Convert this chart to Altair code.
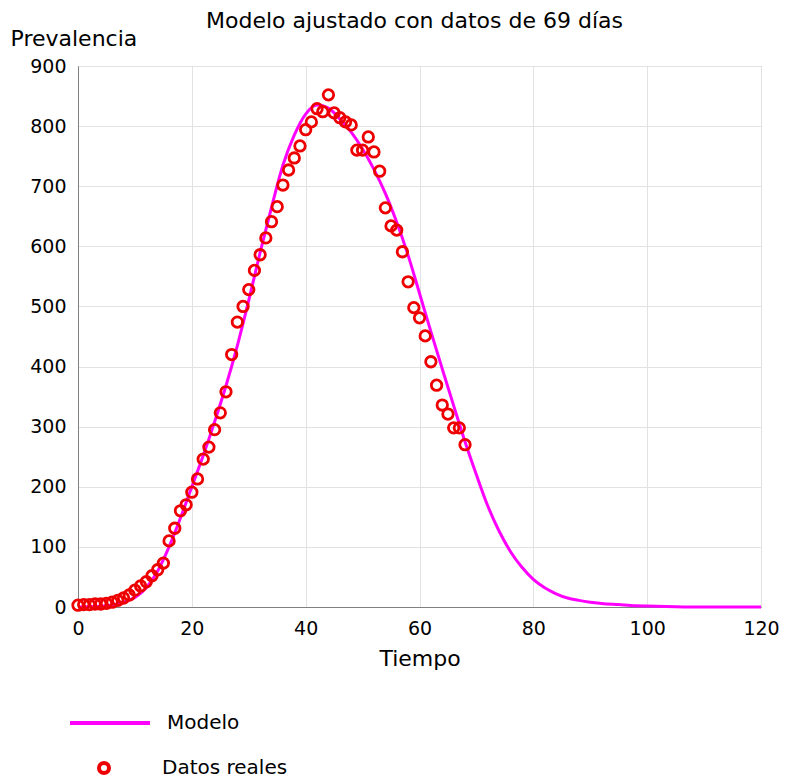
import altair as alt
import pandas as pd

# Observed data (days 0..68)
dias = list(range(69))
datos = [3, 4, 4, 5, 5, 6, 8, 11, 15, 20, 28, 35, 42, 52, 62, 73,
         110, 131, 160, 170, 191, 213, 246, 266, 295, 323,
         358, 420, 474, 500, 528, 560, 586, 614, 641, 666,
         702, 727, 747, 767, 794, 807, 829, 824, 852, 822,
         814, 807, 802, 760, 760, 782, 757, 725, 664, 634,
         627, 591, 541, 498, 481, 451, 408, 369, 336, 321,
         298, 298, 270]

# Fitted model curve
t_modelo = [0, 5, 8, 10, 12, 14, 16, 18, 20, 22, 24, 26, 28, 30, 32, 34, 36, 38, 40,
            42, 44, 46, 48, 50, 52, 54, 56, 58, 60, 62, 64, 66, 68, 70, 72, 74,
            76, 78, 80, 82, 84, 86, 88, 90, 92, 95, 98, 100, 105, 110, 120]
modelo = [0, 2, 8, 16, 32, 60, 100, 148, 200, 252, 308, 368, 435, 510, 590, 665, 735,
          785, 820, 835, 830, 812, 790, 762, 728, 688, 640, 585, 522, 458, 396,
          335, 275, 220, 168, 126, 92, 66, 46, 32, 22, 15, 11, 8, 6, 4, 2, 1.5,
          0.5, 0, 0]

x_ticks = [0, 20, 40, 60, 80, 100, 120]
y_ticks = [0, 100, 200, 300, 400, 500, 600, 700, 800, 900]

df_datos = pd.DataFrame({"t": dias, "v": datos, "serie": "Datos reales"})
df_modelo = pd.DataFrame({"t": t_modelo, "v": modelo, "serie": "Modelo"})

FONT = "DejaVu Sans"

x_enc = alt.X("t:Q", scale=alt.Scale(domain=[0, 120], nice=False),
              axis=alt.Axis(values=x_ticks, title="Tiempo", labelPadding=12,
                            titlePadding=10, labelFlush=False))
y_enc = alt.Y("v:Q", scale=alt.Scale(domain=[0, 900], nice=False),
              axis=alt.Axis(values=y_ticks, title="Prevalencia", titleAngle=0,
                            titleX=-68, titleY=-28, titleAlign="left",
                            titleBaseline="middle", labelPadding=12, labelFlush=False))

linea = alt.Chart(df_modelo).mark_line(strokeWidth=3, interpolate="monotone").encode(
    x=x_enc, y=y_enc,
    color=alt.Color("serie:N", scale=alt.Scale(domain=["Modelo"], range=["#ff00ff"]),
                    legend=alt.Legend(title=None, orient="none", legendX=-10, legendY=615,
                                      symbolType="stroke", symbolSize=6400,
                                      symbolStrokeWidth=4, labelFontSize=20,
                                      labelFont=FONT, labelOffset=15, padding=0))
)

puntos = alt.Chart(df_datos).mark_point(filled=False, size=110, strokeWidth=2.8,
                                        opacity=1).encode(
    x=x_enc, y=y_enc,
    stroke=alt.Stroke("serie:N", scale=alt.Scale(domain=["Datos reales"], range=["#ee0000"]),
                      legend=alt.Legend(title=None, orient="none", legendX=16, legendY=692,
                                        symbolType="circle", symbolSize=100,
                                        symbolStrokeWidth=4, symbolOpacity=1,
                                        labelFontSize=20,
                                        labelFont=FONT, labelOffset=48, padding=0))
)

chart = alt.layer(linea, puntos).properties(
    width=683, height=541,
    autosize=alt.AutoSizeParams(type="none"),
    padding={"left": 70, "top": 58, "right": 18, "bottom": 175},
    title=alt.TitleParams("Modelo ajustado con datos de 69 días", anchor="middle",
                          fontSize=22, fontWeight="normal", font=FONT, color="black",
                          offset=-6, dx=-5),
).configure_view(
    stroke="#808080", strokeWidth=1
).configure_axis(
    labelFont=FONT, titleFont=FONT, labelFontSize=19, titleFontSize=22,
    titleFontWeight="normal", labelColor="black", titleColor="black",
    gridColor="#e2e2e2", gridWidth=1, domainColor="#808080", ticks=False,
)

chart.save("out.html", embed_options={"renderer": "svg", "actions": False})
